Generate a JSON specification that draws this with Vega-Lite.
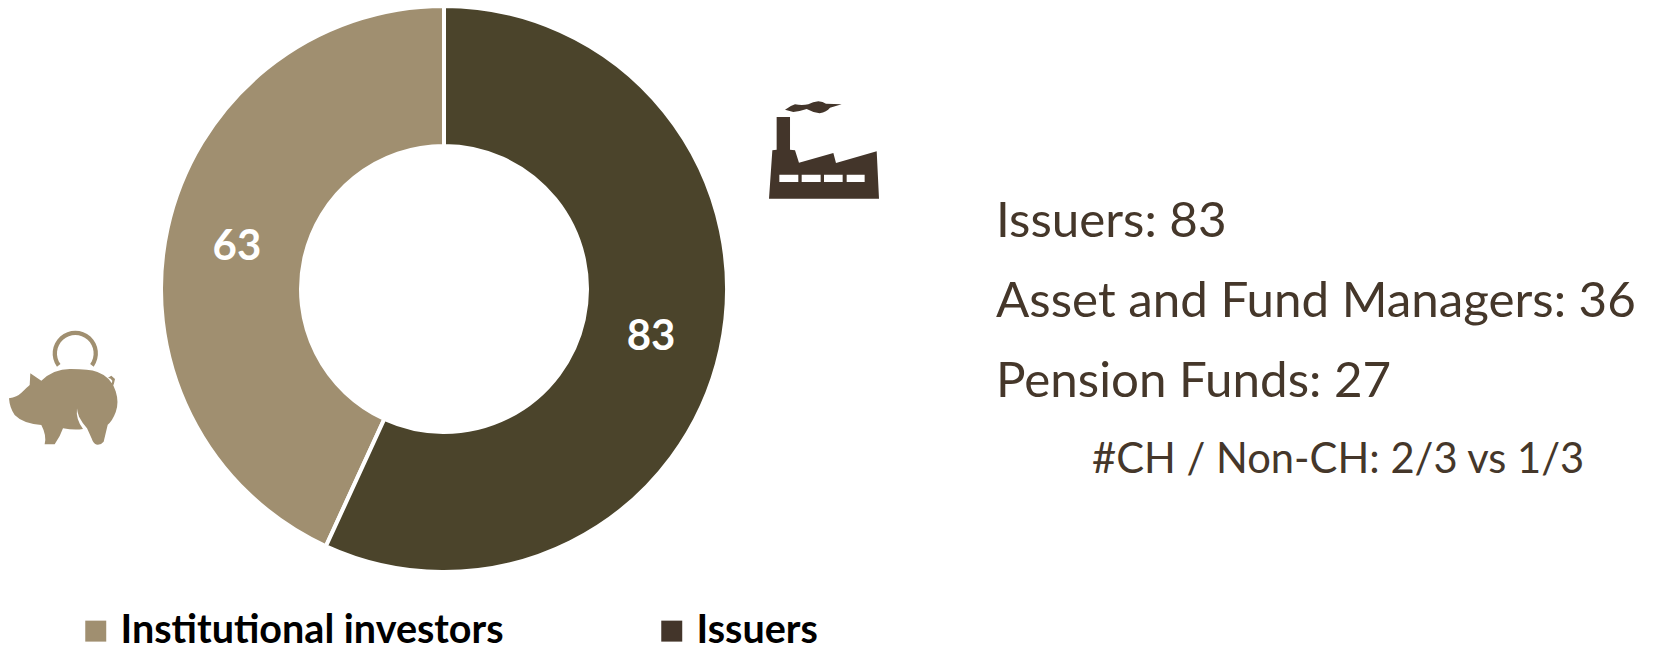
{
  "$schema": "https://vega.github.io/schema/vega-lite/v6.json",
  "autosize": {"type": "none"},
  "padding": {"left": 0, "top": 0, "right": 766, "bottom": 67},
  "background": "white",
  "width": 888,
  "height": 578,
  "config": {"view": {"stroke": null}, "font": "Lato"},
  "datasets": {
    "groups": [
      {"group": "Institutional investors", "icon": "piggy bank", "value": 63},
      {"group": "Issuers", "icon": "factory", "value": 83}
    ],
    "breakdown": [
      {"line": "Issuers: 83", "level": "top"},
      {"line": "Asset and Fund Managers: 36", "level": "top"},
      {"line": "Pension Funds: 27", "level": "top"},
      {"line": "#CH / Non-CH: 2/3 vs 1/3", "level": "sub"}
    ]
  },
  "resolve": {"scale": {"x": "independent", "y": "independent"}},
  "layer": [
    {
      "data": {"name": "groups"},
      "mark": {"type": "arc", "radius": 283, "radius2": 143, "stroke": "white", "strokeWidth": 4},
      "encoding": {
        "theta": {"field": "value", "type": "quantitative", "stack": true},
        "order": {"field": "value", "sort": "descending"},
        "fill": {
          "field": "group",
          "type": "nominal",
          "legend": null,
          "scale": {"domain": ["Issuers", "Institutional investors"], "range": ["#4b442b", "#a08f70"]}
        }
      }
    },
    {
      "data": {"name": "groups"},
      "mark": {"type": "text", "radius": 212, "dy": 3, "font": "Lato", "fontSize": 42, "fontWeight": "bold", "fill": "white"},
      "encoding": {
        "theta": {"field": "value", "type": "quantitative", "stack": true},
        "order": {"field": "value", "sort": "descending"},
        "text": {"field": "value", "type": "quantitative"}
      }
    },
    {
      "data": {"name": "groups"},
      "mark": {"type": "point", "filled": true, "opacity": 1},
      "encoding": {
        "x": {"field": "group", "type": "nominal", "axis": null, "scale": {"type": "point", "domain": ["Institutional investors", "Issuers"], "range": [63, 824], "padding": 0}},
        "y": {"field": "group", "type": "nominal", "axis": null, "scale": {"type": "point", "domain": ["Institutional investors", "Issuers"], "range": [388, 150], "padding": 0}},
        "size": {"field": "icon", "type": "nominal", "legend": null, "scale": {"type": "ordinal", "domain": ["piggy bank", "factory"], "range": [13150, 12100]}},
        "shape": {
          "field": "icon",
          "type": "nominal",
          "legend": null,
          "scale": {
            "domain": ["piggy bank", "factory"],
            "range": [
              "M-.942 .18Q-.8 .16 -.72 .08Q-.62 -.02 -.581 -.052L-.57 -.256L-.378 -.128Q-.15 -.34 .145 -.33Q.45 -.33 .6 -.28Q.85 -.19 .92 .06Q.98 .25 .92 .42Q.86 .58 .78 .64L.709 .936Q.66 1 .58 .985Q.53 .97 .5 .88L.419 .703Q.33 .6 .28 .5Q.25 .43 .244 .355Q.22 .55 .349 .715Q.2 .74 0 .703Q-.05 .85 -.145 .983L-.32 .983Q-.28 .83 -.378 .645Q-.7 .62 -.843 .471Q-.93 .35 -.942 .18ZM.785 -.18L.843 -.215L.907 -.157L.884 -.058L.843 -.047L.86 -.128L.831 -.163ZM-.105 -.372A.395 .395 0 1 1 .535 -.372L.474 -.417A.32 .32 0 1 0 -.044 -.417Z",
              "M-1 .885L-.939 .006L-.861 -.006L-.861 -.6L-.618 -.6L-.618 -.006L-.527 .006L-.455 .23L.17 .055L.218 .236L.958 .024L1 .885ZM-.812 .448L-.812 .582L-.467 .582L-.467 .448ZM-.406 .448L-.406 .582L-.061 .582L-.061 .448ZM0 .448L0 .582L.339 .582L.339 .448ZM.412 .448L.412 .582L.739 .582L.739 .448ZM-.709 -.733Q-.62 -.8 -.527 -.83Q-.4 -.81 -.285 -.83Q-.2 -.88 -.103 -.885Q-.02 -.88 .036 -.842L.321 -.83L.109 -.77Q.05 -.69 -.08 -.67Q-.2 -.68 -.315 -.745Q-.45 -.7 -.558 -.69Z"
            ]
          }
        },
        "color": {
          "field": "group",
          "type": "nominal",
          "scale": {"domain": ["Institutional investors", "Issuers"], "range": ["#a08f70", "#43352a"]},
          "legend": {
            "title": null,
            "orient": "none",
            "legendX": 76,
            "legendY": 611,
            "direction": "horizontal",
            "columns": 2,
            "columnPadding": 148,
            "symbolType": "square",
            "symbolSize": 440,
            "symbolStrokeWidth": 0,
            "labelFont": "Lato",
            "labelFontSize": 39.5,
            "labelFontWeight": "bold",
            "labelColor": "black",
            "labelOffset": 5,
            "labelLimit": 500
          }
        }
      }
    },
    {
      "data": {"name": "breakdown"},
      "transform": [{"filter": "datum.level === 'top'"}],
      "mark": {"type": "text", "align": "left", "baseline": "alphabetic", "font": "Lato", "fontSize": 49.3, "color": "#45372a"},
      "encoding": {
        "text": {"field": "line", "type": "nominal"},
        "x": {"field": "level", "type": "nominal", "axis": null, "scale": {"type": "point", "domain": ["top"], "range": [996, 996], "padding": 0}},
        "y": {"field": "line", "type": "nominal", "axis": null, "scale": {"type": "point", "domain": ["Issuers: 83", "Asset and Fund Managers: 36", "Pension Funds: 27"], "range": [237, 397], "padding": 0}}
      }
    },
    {
      "data": {"name": "breakdown"},
      "transform": [{"filter": "datum.level === 'sub'"}],
      "mark": {"type": "text", "align": "left", "baseline": "alphabetic", "font": "Lato", "fontSize": 41.7, "color": "#45372a"},
      "encoding": {
        "text": {"field": "line", "type": "nominal"},
        "x": {"field": "level", "type": "nominal", "axis": null, "scale": {"type": "point", "domain": ["sub"], "range": [1092, 1092], "padding": 0}},
        "y": {"field": "line", "type": "nominal", "axis": null, "scale": {"type": "point", "domain": ["#CH / Non-CH: 2/3 vs 1/3"], "range": [473, 473], "padding": 0}}
      }
    }
  ]
}
